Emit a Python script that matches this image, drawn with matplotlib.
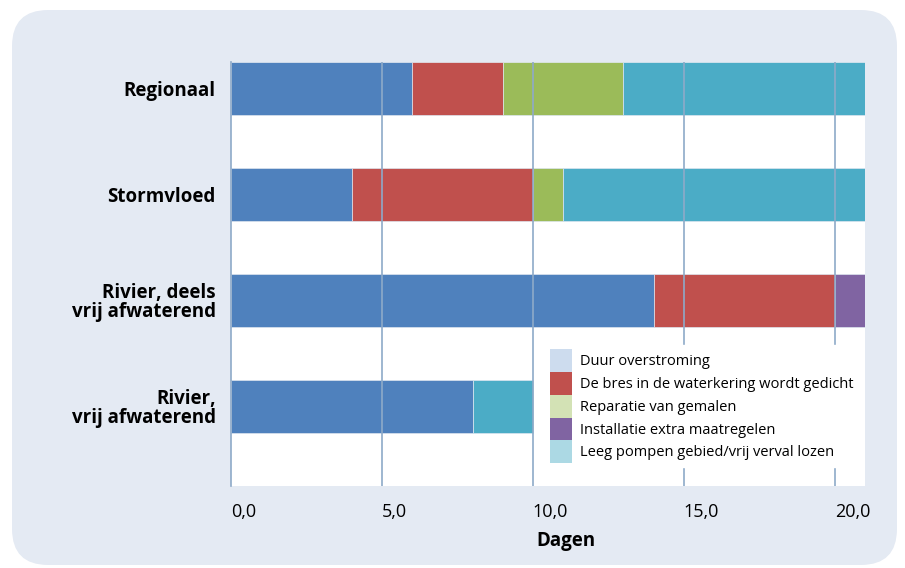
import matplotlib.pyplot as plt
import matplotlib.patches as mpatches
from matplotlib.patches import FancyBboxPatch
import numpy as np

plt.rcParams['font.family'] = ['Open Sans', 'DejaVu Sans']

# gegevens (dagen)
categories = ['Regionaal', 'Stormvloed', 'Rivier, deels\nvrij afwaterend', 'Rivier,\nvrij afwaterend']
duur = [6.0, 4.0, 14.0, 8.0]
bres = [3.0, 6.0, 6.0, 0.0]
gemalen = [4.0, 1.0, 0.0, 0.0]
extra = [0.0, 0.0, 1.0, 0.0]
leeg = [8.0, 10.0, 0.0, 2.0]

series = ['Duur overstroming', 'De bres in de waterkering wordt gedicht',
          'Reparatie van gemalen', 'Installatie extra maatregelen',
          'Leeg pompen gebied/vrij verval lozen']
bar_colors = ['#4f81bd', '#c0504d', '#9bbb59', '#8064a2', '#4bacc6']
legend_colors = ['#cddcee', '#c0504d', '#d3e2b5', '#8064a2', '#acd9e4']
ticks = [0, 5, 10, 15, 20]
tick_labels = ['0,0', '5,0', '10,0', '15,0', '20,0']

grid_col = '#8eaac8'

fig = plt.figure(figsize=(9.05, 5.68), dpi=100)
fig.patch.set_facecolor('white')
# lichtblauw paneel met ronde hoeken
bg = FancyBboxPatch((12 / 905, 3 / 568), 885 / 905, 555 / 568,
                    boxstyle='round,pad=0,rounding_size=0.04',
                    transform=fig.transFigure, facecolor='#e4eaf3', edgecolor='none',
                    mutation_aspect=905 / 568, zorder=-10)
fig.patches.append(bg)

ax = fig.add_axes([231 / 905, 1 - 486 / 568, 634 / 905, 424 / 568])
ax.set_facecolor('white')

y = np.arange(len(categories))
left = np.zeros(len(categories))
for vals, col in zip([duur, bres, gemalen, extra, leeg], bar_colors):
    ax.barh(y, vals, left=left, height=0.5, color=col, edgecolor='#dde5ef',
            linewidth=0.5, zorder=2)
    left += np.array(vals)

ax.set_xlim(0, 21)
ax.set_ylim(3.75, -0.25)
ax.set_yticks(y)
ax.set_yticklabels(categories, fontsize=13.5, fontweight='bold', linespacing=0.95)
ax.set_xticks(ticks)
ax.set_xticklabels(tick_labels, fontsize=13, ha='left')
ax.tick_params(length=0, pad=12)
ax.tick_params(axis='y', pad=11)
ax.set_xlabel('Dagen', fontsize=13.5, fontweight='bold')
ax.xaxis.set_label_coords(0.528, -0.106)

for s in ['top', 'right', 'bottom']:
    ax.spines[s].set_visible(False)
ax.spines['left'].set_color(grid_col)
ax.spines['left'].set_linewidth(1.2)
ax.spines['left'].set_zorder(4)
for t in ticks[1:]:
    ax.axvline(t, color=grid_col, linewidth=1.2, zorder=3)

handles = [mpatches.Patch(facecolor=c, edgecolor='none', label=l)
           for c, l in zip(legend_colors, series)]
leg = ax.legend(handles=handles, loc='upper left',
                bbox_to_anchor=(546 / 905, 1 - 345 / 568),
                bbox_transform=fig.transFigure, fontsize=10.5, frameon=True,
                fancybox=False, framealpha=1, borderaxespad=0, borderpad=0.3,
                labelspacing=0, handleheight=2.02, handlelength=1.5,
                handletextpad=0.55)
leg.get_frame().set_facecolor('white')
leg.get_frame().set_edgecolor('white')
leg.set_zorder(5)

plt.savefig('out.png', dpi=100, facecolor=fig.get_facecolor())
